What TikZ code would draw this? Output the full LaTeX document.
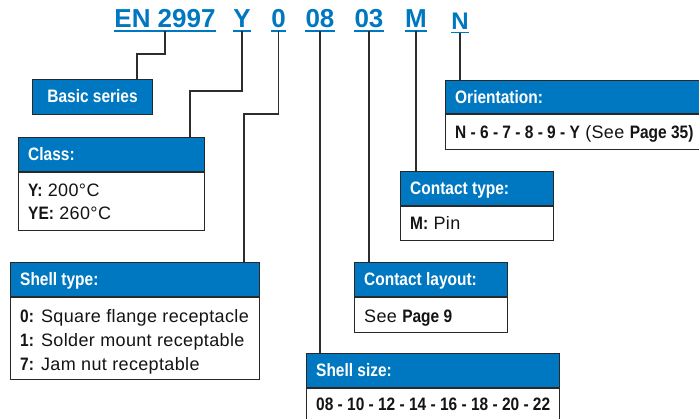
\documentclass[tikz,border=0pt]{standalone}
\usepackage{fontspec}
\setmainfont{Liberation Sans}
\newfontfamily\regfnt{Liberation Sans}[LetterSpace=2]
\newfontfamily\boldfnt{Liberation Sans Bold}[FakeStretch=0.86]
\newfontfamily\ttlfnt{Liberation Sans}
\newcommand\mybf{\boldfnt\fontsize{18}{24}\selectfont}
\definecolor{tblue}{RGB}{0,120,193}
\definecolor{lineclr}{RGB}{45,45,45}
\definecolor{boxclr}{RGB}{40,40,40}
\definecolor{txtclr}{RGB}{20,20,20}
\begin{document}
\begin{tikzpicture}[x=1pt,y=-1pt,
  ttl/.style={inner sep=0pt, anchor=base, text=tblue, font=\ttlfnt\bfseries\fontsize{26}{26}\selectfont},
  ul/.style={draw=tblue, line width=1.2pt},
  ln/.style={draw=lineclr, line width=1.3pt},
  hbox/.style={draw=boxclr, line width=1.1pt, fill=tblue, anchor=north west, inner sep=0pt},
  bbox/.style={draw=boxclr, line width=1.1pt, fill=white, anchor=north west, inner sep=0pt},
  htxt/.style={inner sep=0pt, anchor=base west, text=white, font=\mybf},
  btxt/.style={inner sep=0pt, anchor=base west, text=txtclr, font=\regfnt\fontsize{18}{24}\selectfont}
]
\useasboundingbox (0,0) rectangle (699,419);
\clip (0,0) rectangle (699,419);

% title parts
\node[ttl] (t1) at (165,28) {EN 2997};
\node[ttl] (t2) at (242,28) {Y};
\node[ttl] (t3) at (278.5,28) {0};
\node[ttl] (t4) at (320,28) {08};
\node[ttl] (t5) at (369,28) {03};
\node[ttl] (t6) at (416,28) {M};
\node[ttl, font=\ttlfnt\bfseries\fontsize{24}{24}\selectfont] (t7) at (460,29.5) {N};
\foreach \t in {t1,t2,t3,t4,t5,t6,t7}{
  \draw[ul] ([yshift=-3pt]\t.base west) -- ([yshift=-3pt]\t.base east);
  \coordinate (\t u) at ([yshift=-3.5pt]\t.base);
}

% Basic series
\node[hbox, minimum width=120pt, minimum height=35pt] (h0) at (32,79) {};
\node[htxt, anchor=base] (h0t) at ([yshift=-24pt]h0.north) {Basic series};

% Class
\node[hbox, minimum width=186pt, minimum height=34pt] (h1) at (18,137) {};
\node[bbox, minimum width=186pt, minimum height=58pt] (b1) at (h1.south west) {};
\node[htxt] (h1t) at ([shift={(10,24)}]h1.north west) {Class:};
\node[btxt] (b1a) at ([shift={(10,24)}]b1.north west) {{\mybf Y:} 200°C};
\node[btxt] (b1b) at ([shift={(10,47.5)}]b1.north west) {{\mybf YE:} 260°C};

% Shell type
\node[hbox, minimum width=249pt, minimum height=34pt] (h2) at (10,262) {};
\node[bbox, minimum width=249pt, minimum height=82pt] (b2) at (h2.south west) {};
\node[htxt] (h2t) at ([shift={(10,24)}]h2.north west) {Shell type:};
\node[btxt] (b2a) at ([shift={(10,25)}]b2.north west) {{\mybf 0:} Square flange receptacle};
\node[btxt] (b2b) at ([shift={(10,49)}]b2.north west) {{\mybf 1:} Solder mount receptable};
\node[btxt] (b2c) at ([shift={(10,73)}]b2.north west) {{\mybf 7:} Jam nut receptable};

% Shell size
\node[hbox, minimum width=253pt, minimum height=34pt] (h3) at (306,353) {};
\node[bbox, minimum width=253pt, minimum height=40pt] (b3) at (h3.south west) {};
\node[htxt] (h3t) at ([shift={(10,24)}]h3.north west) {Shell size:};
\node[btxt] (b3a) at ([shift={(10,22.5)}]b3.north west) {\mybf 08 - 10 - 12 - 14 - 16 - 18 - 20 - 22};

% Contact layout
\node[hbox, minimum width=153pt, minimum height=34pt] (h4) at (354,262) {};
\node[bbox, minimum width=153pt, minimum height=35pt] (b4) at (h4.south west) {};
\node[htxt] (h4t) at ([shift={(10,24)}]h4.north west) {Contact layout:};
\node[btxt] (b4a) at ([shift={(10,25)}]b4.north west) {See {\mybf Page 9}};

% Contact type
\node[hbox, minimum width=153pt, minimum height=34pt] (h5) at (400,171) {};
\node[bbox, minimum width=153pt, minimum height=34pt] (b5) at (h5.south west) {};
\node[htxt] (h5t) at ([shift={(10,24)}]h5.north west) {Contact type:};
\node[btxt] (b5a) at ([shift={(10,23.5)}]b5.north west) {{\mybf M:} Pin};

% Orientation
\node[hbox, minimum width=280pt, minimum height=33pt] (h6) at (445,80) {};
\node[bbox, minimum width=280pt, minimum height=35pt] (b6) at (h6.south west) {};
\node[htxt] (h6t) at ([shift={(10,23.5)}]h6.north west) {Orientation:};
\node[btxt] (b6a) at ([shift={(10,24)}]b6.north west) {{\mybf N - 6 - 7 - 8 - 9 - Y} (See {\mybf Page 35)}};

% bend points
\coordinate (k1) at (137,54);
\coordinate (k2) at (190,91);
\coordinate (k3) at (244,114);

% connectors
\draw[ln] (t1u) -- (t1u |- k1) -- (k1) -- (k1 |- h0.north);
\draw[ln] (t2u) -- (t2u |- k2) -- (k2) -- (k2 |- h1.north);
\draw[ln] (t3u) -- (t3u |- k3) -- (k3) -- (k3 |- h2.north);
\draw[ln] (t4u) -- (t4u |- h3.north);
\draw[ln] (t5u) -- (t5u |- h4.north);
\draw[ln] (t6u) -- (t6u |- h5.north);
\draw[ln] (t7u) -- (t7u |- h6.north);
\end{tikzpicture}
\end{document}
